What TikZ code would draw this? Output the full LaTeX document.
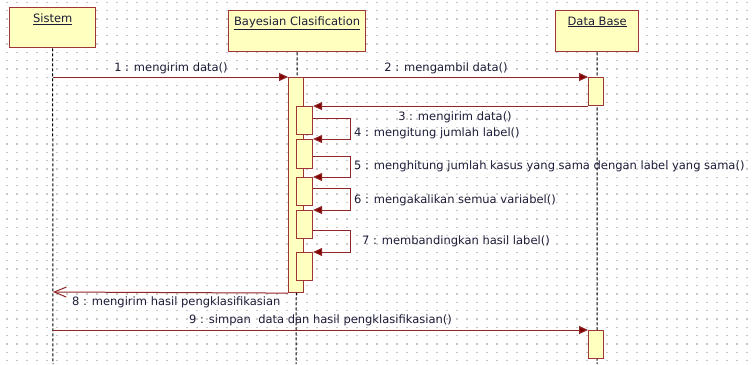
\documentclass[tikz,border=0pt]{standalone}
\usepackage{fontspec}
\setmainfont{DejaVu Sans}
\usetikzlibrary{arrows.meta}
\definecolor{boxfill}{HTML}{FFFFC0}
\definecolor{boxline}{HTML}{A03535}
\definecolor{msgcol}{HTML}{902525}
\definecolor{tipcol}{HTML}{800000}
\definecolor{txt}{HTML}{1C1C38}
\definecolor{dotcol}{HTML}{C8C8C8}
\tikzset{
  headbox/.style={draw=boxline, fill=boxfill, line width=1.3pt, inner sep=0pt, anchor=north west},
  actbox/.style={draw=boxline, fill=boxfill, line width=1.1pt, inner sep=0pt, anchor=north west, minimum width=15},
  lifeline/.style={black, line width=1pt, dash pattern=on 3pt off 2pt},
  msgline/.style={msgcol, line width=1pt, -{Triangle[length=9pt,width=8pt,fill=tipcol]}},
  retline/.style={msgcol, line width=1pt, -{Straight Barb[length=12pt,width=10pt]}},
  lbl/.style={text=txt, font=\fontsize{11.5}{13}\selectfont, inner sep=0pt},
  title/.style={text=txt, font=\fontsize{11.5}{13}\selectfont, inner sep=0pt, anchor=north}
}
\begin{document}
\begin{tikzpicture}[x=1pt,y=-1pt]
\useasboundingbox (0,0) rectangle (754,364);
\fill[white] (0,0) rectangle (754,364);
% grid dots
\foreach \i in {0,...,74}{
  \foreach \j in {0,...,43}{
    \fill[dotcol] ({7+10*\i-0.6},{2.3+8.333*\j-0.6}) rectangle ++(1.2,1.2);
  }
}
% heads
\node[headbox, minimum width=86, minimum height=40] (sis) at (9,7) {};
\node[title] at ([yshift=-6.5pt]sis.north) {\underline{Sistem}};
\node[headbox, minimum width=137, minimum height=41] (bay) at (228,10) {};
\node[title] at ([yshift=-6.5pt]bay.north) {\underline{Bayesian Clasification}};
\node[headbox, minimum width=83, minimum height=41] (db) at (555,10) {};
\node[title] at ([yshift=-6.5pt]db.north) {\underline{Data Base}};
% lifelines
\coordinate (sisend) at (53,364);
\coordinate (bayend) at (296,364);
\coordinate (dbend) at (597,364);
\draw[lifeline] (sis.south) -- (sisend);
\draw[lifeline] (bay.south) -- (bayend);
\draw[lifeline] (db.south) -- (dbend);
% activations
\node[actbox, minimum height=215] (bm) at (288,77) {};
\node[actbox, minimum height=28] (db1) at (588,77) {};
\node[actbox, minimum height=28] (db2) at (588,330) {};
\node[actbox, minimum width=16, minimum height=28] (n1) at (296,106) {};
\node[actbox, minimum width=16, minimum height=29] (n2) at (296,139) {};
\node[actbox, minimum width=16, minimum height=28] (n3) at (296,177) {};
\node[actbox, minimum width=16, minimum height=28] (n4) at (296,210) {};
\node[actbox, minimum width=16, minimum height=28] (n5) at (296,252) {};
% messages
\coordinate (s1) at (53,77);
\coordinate (s8) at (53,292);
\coordinate (s9) at (53,330);
\draw[msgline] (s1) -- (bm.north west);
\draw[msgline] (bm.north east) -- (db1.north west);
\draw[msgline] (db1.south west) -- (db1.south west -| n1.east);
\draw[msgline] (n1.east |- 0,118) -- (350,118) |- (n2.north east);
\draw[msgline] (n2.east |- 0,156) -- (350,156) |- (n3.north east);
\draw[msgline] (n3.east |- 0,188) -- (350,188) |- (n4.north east);
\draw[msgline] (n4.east |- 0,230) -- (350,230) |- (n5.north east);
\draw[retline] (bm.south west) -- (s8);
\draw[msgline] (s9) -- (db2.north west);
% labels
\node[lbl] (l1) at (171,68) {1 : mengirim data()};
\node[lbl] (l2) at (446,68) {2 : mengambil data()};
\node[lbl] (l3) at (455,117) {3 : mengirim data()};
\node[lbl, anchor=west] (l4) at (354,133) {4 : mengitung jumlah label()};
\node[lbl, anchor=west] (l5) at (354,166) {5 : menghitung jumlah kasus yang sama dengan label yang sama()};
\node[lbl, anchor=west] (l6) at (354,200) {6 : mengakalikan semua variabel()};
\node[lbl, anchor=west] (l7) at (362,241) {7 : membandingkan hasil label()};
\node[lbl, anchor=west] (l8) at (72,302) {8 : mengirim hasil pengklasifikasian};
\node[lbl, anchor=west] (l9) at (189,320) {9 : simpan\ \ data dan hasil pengklasifikasian()};
\end{tikzpicture}
\end{document}
